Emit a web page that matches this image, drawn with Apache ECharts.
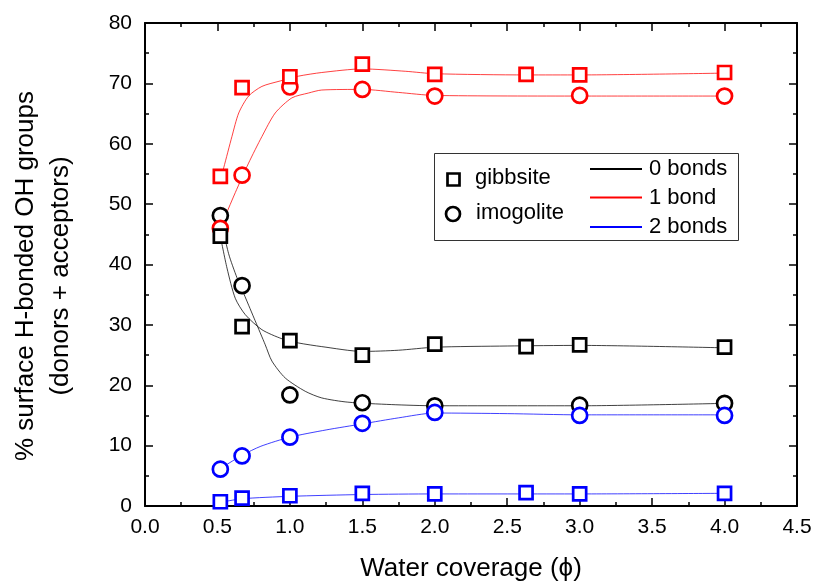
<!DOCTYPE html>
<html>
<head>
<meta charset="utf-8">
<script src="https://cdn.jsdelivr.net/npm/echarts@6/dist/echarts.min.js"></script>
<style>
  html, body { margin: 0; padding: 0; background: #fff; }
  #chart { width: 815px; height: 584px; }
</style>
</head>
<body>
<div id="chart"></div>
<script>
// measured points
var xGibbsite = [0.52, 0.67, 1.0, 1.5, 2.0, 2.63, 3.0, 4.0];
var xImogolite = [0.52, 0.67, 1.0, 1.5, 2.0, 3.0, 4.0];
var gib0 = [44.7, 29.7, 27.4, 25.0, 26.8, 26.4, 26.7, 26.3];
var gib1 = [54.6, 69.3, 71.1, 73.2, 71.5, 71.5, 71.4, 71.8];
var gib2 = [0.7, 1.3, 1.7, 2.1, 2.0, 2.2, 2.0, 2.1];
var imo0 = [48.1, 36.5, 18.4, 17.1, 16.6, 16.7, 17.0];
var imo1 = [46.0, 54.8, 69.4, 69.0, 67.9, 68.0, 67.9];
var imo2 = [6.1, 8.3, 11.4, 13.7, 15.5, 15.0, 15.0];

// fitted curves
var fitGib0X = [0.52, 0.566, 0.623, 0.692, 0.807, 0.945, 1.06, 1.22, 1.5, 1.75, 2.0, 2.5, 3.0, 4.0];
var fitGib0Y = [44.7, 39.4, 34.4, 31.7, 29.2, 27.7, 27.0, 26.4, 25.6, 25.8, 26.3, 26.5, 26.6, 26.2];
var fitImo0X = [0.52, 0.577, 0.635, 0.69, 0.76, 0.83, 0.876, 0.968, 1.106, 1.22, 1.4, 1.7, 2.0, 3.0, 4.0];
var fitImo0Y = [47.8, 41.8, 37.8, 34.7, 30.7, 26.7, 24.0, 21.2, 19.0, 17.9, 17.2, 16.8, 16.6, 16.6, 17.0];
var fitGib1X = [0.52, 0.543, 0.6, 0.647, 0.715, 0.807, 0.933, 1.06, 1.22, 1.5, 1.8, 2.0, 2.63, 3.0, 4.0];
var fitGib1Y = [54.0, 56.0, 61.2, 65.1, 67.9, 69.5, 70.4, 71.2, 71.8, 72.4, 72.0, 71.6, 71.4, 71.4, 71.7];
var fitImo1X = [0.52, 0.554, 0.623, 0.715, 0.807, 0.899, 1.014, 1.128, 1.22, 1.5, 1.75, 2.0, 3.0, 4.0];
var fitImo1Y = [46.0, 48.0, 51.9, 56.8, 61.2, 65.1, 67.6, 68.4, 68.9, 69.0, 68.5, 68.0, 67.9, 67.9];
var fitGib2X = [0.52, 0.67, 1.0, 1.5, 2.0, 3.0, 4.0];
var fitGib2Y = [0.6, 1.2, 1.6, 1.9, 2.0, 2.0, 2.1];
var fitImo2X = [0.52, 0.67, 0.8, 1.0, 1.25, 1.5, 1.75, 2.0, 2.5, 3.0, 4.0];
var fitImo2Y = [6.2, 8.4, 9.9, 11.4, 12.6, 13.6, 14.6, 15.4, 15.3, 15.1, 15.1];

var bondNames = ['0 bonds', '1 bond', '2 bonds'];
var bondColors = ['#000000', '#ff0000', '#0000ff'];

function pairs(xs, ys) {
    var out = [];
    for (var i = 0; i < xs.length; i++) out.push([xs[i], ys[i]]);
    return out;
}

function fitLine(xs, ys, color) {
    return {
        type: 'line',
        data: pairs(xs, ys),
        smooth: 0.25,
        showSymbol: false,
        symbol: 'none',
        lineStyle: { color: color, width: 1, opacity: 0.75 },
        z: 1,
        silent: true
    };
}

function points(xs, ys, color, symbol) {
    return {
        type: 'scatter',
        data: pairs(xs, ys),
        symbol: symbol,
        symbolSize: symbol == 'rect' ? 13 : 15,
        itemStyle: { color: '#fff', borderColor: color, borderWidth: 2.7, opacity: 1 },
        z: 3
    };
}

var font = 'Liberation Sans, Arial, sans-serif';

function axisStyle() {
    return {
        axisLine: { onZero: false, lineStyle: { color: '#000', width: 2 } },
        axisTick: { inside: true, length: 8, lineStyle: { color: '#000', width: 1.5 } },
        minorTick: { show: true, splitNumber: 2, length: 4, lineStyle: { color: '#000', width: 1.5 } },
        splitLine: { show: false }
    };
}

var chart = echarts.init(document.getElementById('chart'));
chart.setOption({
    animation: false,
    grid: { left: 145, right: 18, top: 23, bottom: 78 },
    xAxis: [
        Object.assign({
            type: 'value', min: 0, max: 4.5, interval: 0.5, position: 'bottom',
            axisLabel: {
                margin: 11, fontSize: 21, fontFamily: font, color: '#000',
                formatter: function (v) { return v.toFixed(1); }
            }
        }, axisStyle()),
        Object.assign({
            type: 'value', min: 0, max: 4.5, interval: 0.5, position: 'top',
            axisLabel: { show: false }
        }, axisStyle())
    ],
    yAxis: [
        Object.assign({
            type: 'value', min: 0, max: 80, interval: 10, position: 'left',
            axisLabel: { margin: 13, fontSize: 21, fontFamily: font, color: '#000' }
        }, axisStyle()),
        Object.assign({
            type: 'value', min: 0, max: 80, interval: 10, position: 'right',
            axisLabel: { show: false }
        }, axisStyle())
    ],
    series: [
        fitLine(fitGib0X, fitGib0Y, bondColors[0]),
        fitLine(fitImo0X, fitImo0Y, bondColors[0]),
        fitLine(fitGib1X, fitGib1Y, bondColors[1]),
        fitLine(fitImo1X, fitImo1Y, bondColors[1]),
        fitLine(fitGib2X, fitGib2Y, bondColors[2]),
        fitLine(fitImo2X, fitImo2Y, bondColors[2]),
        points(xImogolite, imo0, bondColors[0], 'circle'),
        points(xImogolite, imo1, bondColors[1], 'circle'),
        points(xImogolite, imo2, bondColors[2], 'circle'),
        points(xGibbsite, gib0, bondColors[0], 'rect'),
        points(xGibbsite, gib1, bondColors[1], 'rect'),
        points(xGibbsite, gib2, bondColors[2], 'rect')
    ],
    graphic: [
        {
            type: 'text', x: 471, y: 569,
            style: { text: 'Water coverage (\u03d5)', fontSize: 26, fontFamily: font, fill: '#000',
                     align: 'center', verticalAlign: 'middle' }
        },
        {
            type: 'text', x: 43, y: 276, rotation: Math.PI / 2,
            style: { text: '% surface H-bonded OH groups\n(donors + acceptors)', fontSize: 26,
                     fontFamily: font, fill: '#000', align: 'center', verticalAlign: 'middle',
                     lineHeight: 35 }
        },
        // legend box
        {
            type: 'rect', shape: { x: 434.5, y: 153.5, width: 304, height: 87 },
            style: { fill: '#fff', stroke: '#333', lineWidth: 1 }, z: 10
        },
        {
            type: 'rect', shape: { x: 447.5, y: 173.5, width: 12, height: 12 },
            style: { fill: '#fff', stroke: '#000', lineWidth: 2.7 }, z: 11
        },
        {
            type: 'circle', shape: { cx: 453, cy: 214, r: 7 },
            style: { fill: '#fff', stroke: '#000', lineWidth: 2.7 }, z: 11
        },
        {
            type: 'text', x: 475, y: 178,
            style: { text: 'gibbsite', fontSize: 22, fontFamily: font, fill: '#000', verticalAlign: 'middle' }, z: 11
        },
        {
            type: 'text', x: 476, y: 213,
            style: { text: 'imogolite', fontSize: 22, fontFamily: font, fill: '#000', verticalAlign: 'middle' }, z: 11
        }
    ].concat(bondNames.map(function (name, i) {
        var y = [169, 197.5, 227][i];
        return {
            type: 'group', z: 11,
            children: [
                { type: 'line', shape: { x1: 590, y1: y, x2: 642, y2: y },
                  style: { stroke: bondColors[i], lineWidth: 2 }, z: 11 },
                { type: 'text', x: 649, y: y,
                  style: { text: name, fontSize: 22, fontFamily: font, fill: '#000', verticalAlign: 'middle' }, z: 11 }
            ]
        };
    }))
});
</script>
</body>
</html>
